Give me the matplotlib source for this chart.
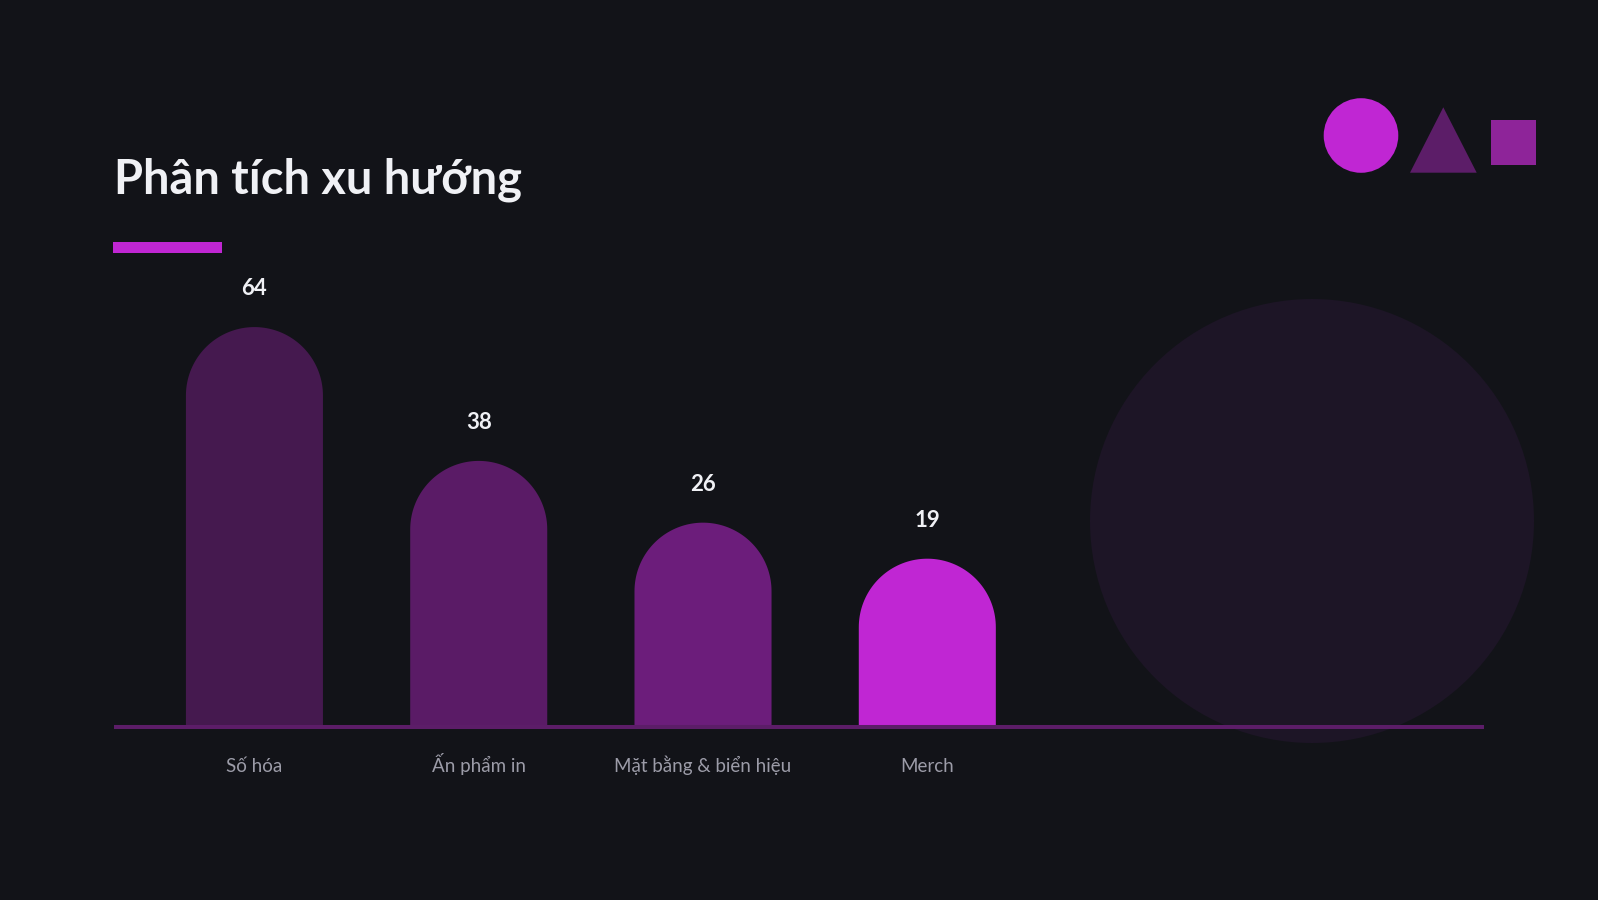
import numpy as np
import matplotlib
matplotlib.use("Agg")
import matplotlib.pyplot as plt
from matplotlib.patches import Polygon, Circle, Rectangle

# ---- data ----
categories = ["Số hóa", "Ấn phẩm in", "Mặt bằng & biển hiệu", "Merch"]
values = [64, 38, 26, 19]
bar_colors = ["#45194f", "#5a1b66", "#6c1d7b", "#c026d3"]
title = "Phân tích xu hướng"

BG = "#121318"
FONT = ["Lato", "DejaVu Sans"]
plt.rcParams["font.family"] = FONT

W, H = 1598, 900
fig = plt.figure(figsize=(W / 100, H / 100), dpi=100, facecolor=BG)

# background decoration axes (pixel coordinates)
bg = fig.add_axes([0, 0, 1, 1], zorder=0)
bg.set_xlim(0, W)
bg.set_ylim(H, 0)
bg.axis("off")
bg.set_facecolor(BG)
bg.add_patch(Circle((1312, 521), 222, facecolor="#1d1526", edgecolor="none"))
bg.add_patch(Circle((1361, 135.5), 37.3, facecolor="#c026d3", edgecolor="none"))
bg.add_patch(Polygon([(1410, 172.7), (1476.7, 172.7), (1443.3, 107.3)], closed=True,
                     facecolor="#5c1d68", edgecolor="none"))
bg.add_patch(Rectangle((1491, 120), 45.3, 45.3, facecolor="#8e2499", edgecolor="none"))
bg.add_patch(Rectangle((113.3, 242), 108.7, 11.3, facecolor="#c026d3", edgecolor="none"))

fig.text(114 / W, 1 - 193.3 / H, title, fontsize=33.8, fontweight="bold",
         color="#f0f1f5", ha="left", va="baseline", family=FONT)

# main chart axes
left_px, right_px = 113.8, 1484
bottom_px, top_px = 726.7, 200
ax = fig.add_axes([left_px / W, 1 - bottom_px / H, (right_px - left_px) / W,
                   (bottom_px - top_px) / H], zorder=1)
ax.set_facecolor("none")
ax.set_xlim(-0.627, 5.482)
ax.set_ylim(-0.33, 102.0)
for s in ["top", "right", "left"]:
    ax.spines[s].set_visible(False)
ax.spines["bottom"].set_color("#5c1d68")
ax.spines["bottom"].set_linewidth(2.9)
ax.spines["bottom"].set_capstyle("butt")
ax.spines["bottom"].set_zorder(5)
ax.set_yticks([])
ax.set_xticks([])

x = np.arange(len(categories))
bw = 0.611
hw = bw / 2
# pixel scale to make caps circular
p0 = ax.transData.transform((0, 0))
p1 = ax.transData.transform((1, 1))
px_x = p1[0] - p0[0]
px_y = p1[1] - p0[1]
ry = hw * px_x / px_y

theta = np.linspace(0, np.pi, 80)
for xi, v, c, lab in zip(x, values, bar_colors, categories):
    arc_x = xi + hw * np.cos(theta)
    arc_y = v + ry * np.sin(theta)
    xs = np.concatenate([[xi - hw, xi + hw], arc_x])
    ys = np.concatenate([[0, 0], arc_y])
    ax.add_patch(Polygon(np.column_stack([xs, ys]), closed=True, facecolor=c,
                         edgecolor="none", zorder=2))
    ax.annotate(str(v), (xi, v + ry), xytext=(0, 32), textcoords="offset pixels",
                ha="center", va="baseline", fontsize=16, fontweight="bold",
                color="#f0f1f5", family=FONT)
    ax.annotate(lab, (xi, 0), xytext=(0, -47), textcoords="offset pixels",
                ha="center", va="baseline", fontsize=13.5, color="#9c9ca8",
                family=FONT, annotation_clip=False)

fig.savefig("out.png", dpi=100, facecolor=BG)
